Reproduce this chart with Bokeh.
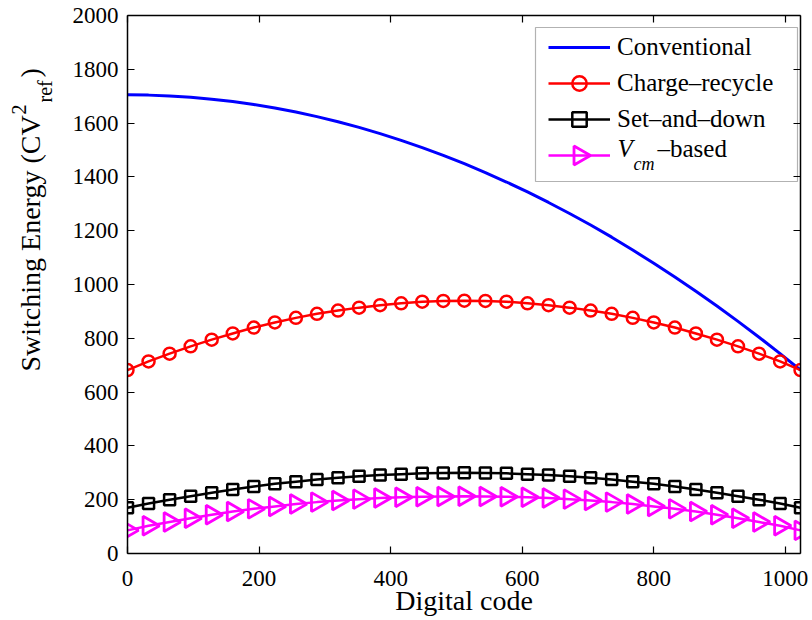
import math
from bokeh.plotting import figure
from bokeh.layouts import row
from bokeh.models import (Range1d, LinearAxis, FixedTicker, Legend, LegendItem,
                          Label, BoxAnnotation)
from bokeh.embed import file_html
from bokeh.resources import INLINE

# ---------------- data ----------------
codes = [0, 32, 64, 96, 128, 160, 192, 224, 256, 288, 320, 352, 384, 416, 448,
         480, 512, 544, 576, 608, 640, 672, 704, 736, 768, 800, 832, 864, 896,
         928, 960, 992, 1023]
conventional = [1705, 1704, 1701, 1696, 1689, 1680, 1669, 1656, 1641, 1624, 1605,
                1584, 1561, 1536, 1509, 1480, 1449, 1416, 1381, 1344, 1305, 1264,
                1221, 1176, 1128, 1079, 1028, 975, 920, 863, 804, 743, 682]
charge_recycle = [682, 714, 743, 770, 795, 818, 840, 859, 876, 891, 903, 914, 923,
                  930, 936, 939, 940, 939, 936, 930, 923, 914, 903, 891, 876, 859,
                  840, 818, 795, 770, 743, 714, 682]
set_and_down = [170, 186, 200, 213, 226, 238, 249, 259, 267, 275, 282, 287, 292,
                295, 298, 299, 300, 299, 298, 295, 292, 287, 282, 275, 267, 259,
                249, 238, 226, 213, 200, 186, 170]
vcm_based = [86, 103, 117, 131, 144, 156, 166, 175, 184, 191, 197, 202, 206, 209,
             211, 212, 213, 212, 211, 209, 206, 202, 197, 191, 184, 175, 166, 156,
             144, 131, 117, 103, 86]
x_ticks = [0, 200, 400, 600, 800, 1000]
y_ticks = [0, 200, 400, 600, 800, 1000, 1200, 1400, 1600, 1800, 2000]
x_range = (0, 1023)
y_range = (0, 2000)
series_names = ["Conventional", "Charge\u2013recycle", "Set\u2013and\u2013down"]
x_label = "Digital code"

FONT = "Liberation Serif"
W, H = 812, 620
YW = 60                      # strip on the left holding the y label
PW, PH = W - YW, H
BL, BR, BT, BB = 127 - YW, 12, 15, 67
FW, FH = PW - BL - BR, PH - BT - BB
BASE = 0.36                  # measured shift of Bokeh's alphabetic anchor (in em)

p = figure(width=PW, height=PH, output_backend="svg", toolbar_location=None,
           x_range=Range1d(*x_range), y_range=Range1d(*y_range),
           min_border_left=BL, min_border_right=BR, min_border_top=BT,
           min_border_bottom=BB)
p.xgrid.visible = False
p.ygrid.visible = False
p.outline_line_color = None
p.background_fill_color = "white"
p.border_fill_color = "white"

p.add_layout(LinearAxis(), "right")
p.add_layout(LinearAxis(), "above")


def style_axis(ax, ticks, show, standoff):
    ax.ticker = FixedTicker(ticks=ticks)
    ax.major_tick_in = 7
    ax.major_tick_out = 0
    ax.minor_tick_line_color = None
    ax.axis_line_width = 1.5
    ax.axis_line_color = "black"
    ax.major_tick_line_color = "black"
    ax.major_tick_line_width = 1.2
    ax.major_label_text_font = FONT
    ax.major_label_text_color = "black"
    ax.major_label_text_font_size = "23px"
    ax.major_label_standoff = standoff
    if not show:
        ax.major_label_overrides = {t: "" for t in ticks}


style_axis(p.below[0], x_ticks, True, 17)
style_axis(p.above[0], x_ticks, False, 0)
style_axis(p.left[0], y_ticks, True, 9)
style_axis(p.right[0], y_ticks, False, 0)

xa = p.below[0]
xa.axis_label = x_label
xa.axis_label_text_font = FONT
xa.axis_label_text_font_size = "28px"
xa.axis_label_text_font_style = "normal"
xa.axis_label_text_color = "black"
xa.axis_label_standoff = -4

RED, BLUE, MAG = "#FF0000", "#0000FF", "#FF00FF"

r_conv = p.line(codes, conventional, line_color=BLUE, line_width=3)
r_cr_l = p.line(codes, charge_recycle, line_color=RED, line_width=2.5)
r_cr_m = p.scatter(codes, charge_recycle, marker="circle", size=12,
                   line_color=RED, line_width=2.5, fill_color=None)
r_sd_l = p.line(codes, set_and_down, line_color="black", line_width=2.5)
r_sd_m = p.scatter(codes, set_and_down, marker="square", size=11,
                   line_color="black", line_width=2.5, fill_color=None)
r_vc_l = p.line(codes, vcm_based, line_color=MAG, line_width=2.5)
TRI = dict(marker="triangle", size=19, angle=-math.pi / 2,
           line_color=MAG, line_width=2.8, fill_color=None)
r_vc_m = p.scatter(codes, vcm_based, **TRI)

# ---------------- legend ----------------
LX0, LX1, LY0, LY1 = 535, 797, 27, 181      # legend frame in page pixels
ROW = 36
box = BoxAnnotation(left=LX0 - 127, right=LX1 - 127,
                    top=553 - LY0, bottom=553 - LY1,
                    left_units="screen", right_units="screen",
                    top_units="screen", bottom_units="screen",
                    fill_color="white", fill_alpha=1.0,
                    line_color="black", line_width=1.2, level="underlay")
p.add_layout(box)

legend = Legend(items=[
    LegendItem(label=series_names[0], renderers=[r_conv]),
    LegendItem(label=series_names[1], renderers=[r_cr_l, r_cr_m]),
    LegendItem(label=series_names[2], renderers=[r_sd_l, r_sd_m]),
    LegendItem(label=" ", renderers=[r_vc_l]),
], location=(548 - 127, 553 - (29 + 4 * ROW)), margin=0, padding=0, spacing=0,
    glyph_width=62, glyph_height=ROW, label_height=ROW, label_standoff=7,
    label_text_font=FONT, label_text_font_size="25px", label_text_color="black",
    border_line_color=None, background_fill_alpha=0.0)
p.add_layout(legend)

# right-pointing triangle key of the 4th legend row (legend keys cannot be rotated),
# placed at the centre of that row's key area, converted from page pixels to data units
key_px = (548 + 31 - 127, 553 - (29 + 3.5 * ROW))
key_x = x_range[0] + key_px[0] / FW * (x_range[1] - x_range[0])
key_y = y_range[0] + key_px[1] / FH * (y_range[1] - y_range[0])
p.scatter([key_x], [key_y], **TRI)


def lab(fig, x, y, text, size, style="normal", align="left", angle=0.0):
    fig.add_layout(Label(x=x, y=y, x_units="screen", y_units="screen",
                         text=text, text_font=FONT, text_font_size=f"{size}px",
                         text_font_style=style, text_color="black",
                         text_align=align, text_baseline="alphabetic", angle=angle))


# V_cm-based legend text: baseline positions in page pixels -> frame pixels
lab(p, 617 - 127, 553 - (157 - BASE * 25), "V", 25, "italic")
lab(p, 633 - 127, 553 - (170 - BASE * 18), "cm", 18, "italic")
lab(p, 657 - 127, 553 - (157 - BASE * 25), "\u2013based", 25)

# y label strip: Switching Energy (CV^2_ref), baseline positions in page pixels
yfig = figure(width=YW, height=H, output_backend="svg", toolbar_location=None,
              x_range=Range1d(0, 1), y_range=Range1d(0, 1),
              x_axis_location=None, y_axis_location=None,
              min_border=0, min_border_left=0, min_border_right=0,
              min_border_top=0, min_border_bottom=0)
yfig.xgrid.visible = False
yfig.ygrid.visible = False
yfig.outline_line_color = None
yfig.background_fill_color = "white"
yfig.border_fill_color = "white"

A = math.pi / 2
lab(yfig, 40 - BASE * 28, H - 438, "Switching Energy (CV", 28, angle=A)
lab(yfig, 26 - BASE * 20, H - 181, "2", 20, angle=A)
lab(yfig, 52 - BASE * 20, H - 169, "ref", 20, angle=A)
lab(yfig, 40 - BASE * 28, H - 144, ")", 28, angle=A)

layout = row(yfig, p, spacing=0)
open("out.html", "w").write(file_html(layout, INLINE))
